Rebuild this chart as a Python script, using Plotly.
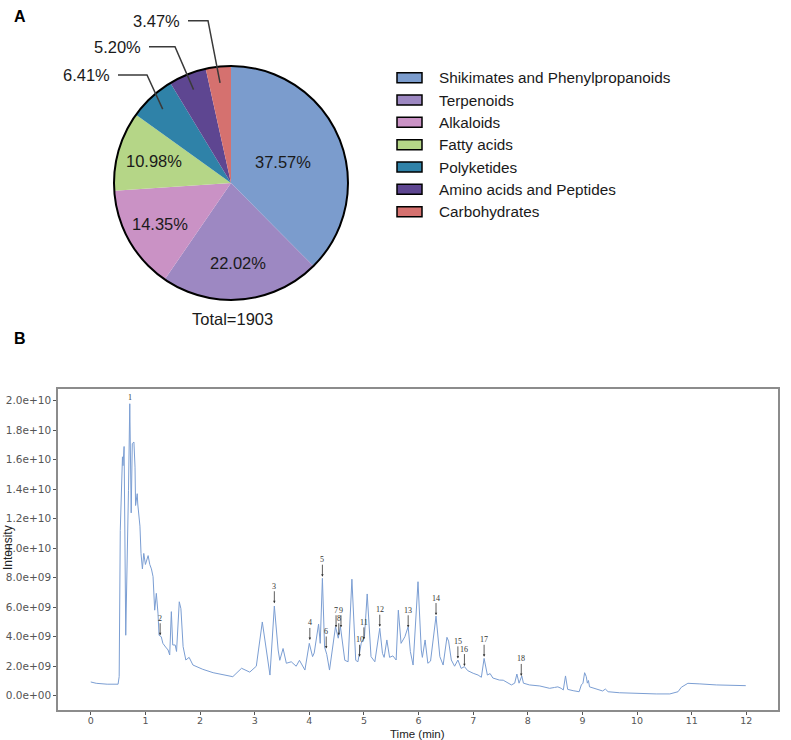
import math
import plotly.graph_objects as go

W, H = 791, 740

# ---------------- Panel A data ----------------
CATEGORIES = ["Shikimates and Phenylpropanoids", "Terpenoids", "Alkaloids",
              "Fatty acids", "Polyketides", "Amino acids and Peptides", "Carbohydrates"]
COUNTS = [715, 419, 273, 209, 122, 99, 66]
COLORS = ["#7B9CCD", "#9D88C2", "#CA92C5", "#B5D687", "#2F82A8", "#5E4691", "#D5716F"]

# ---------------- Panel B data ----------------
TIME_MIN = [0.00, 0.10, 0.30, 0.50, 0.52, 0.54, 0.58, 0.59, 0.61, 0.64, 0.69, 0.714, 0.74, 0.76,
            0.79, 0.81, 0.82, 0.85, 0.86, 0.90, 0.92, 0.945, 0.97, 1.00, 1.05, 1.08, 1.11, 1.14,
            1.17, 1.20, 1.23, 1.25, 1.29, 1.32, 1.37, 1.415, 1.445, 1.475, 1.50, 1.545, 1.57,
            1.62, 1.65, 1.69, 1.74, 1.80, 1.87, 2.05, 2.24, 2.42, 2.60, 2.76, 2.91, 3.03, 3.14,
            3.28, 3.36, 3.43, 3.46, 3.52, 3.58, 3.67, 3.76, 3.82, 3.92, 4.00, 4.06, 4.09, 4.17,
            4.20, 4.24, 4.28, 4.32, 4.37, 4.48, 4.53, 4.57, 4.65, 4.71, 4.78, 4.85, 4.89, 4.95,
            5.01, 5.06, 5.13, 5.20, 5.29, 5.34, 5.37, 5.42, 5.47, 5.53, 5.59, 5.63, 5.68, 5.75,
            5.81, 5.85, 5.90, 5.99, 6.05, 6.07, 6.12, 6.17, 6.22, 6.32, 6.39, 6.45, 6.52, 6.55,
            6.60, 6.66, 6.72, 6.78, 6.84, 6.90, 7.00, 7.09, 7.15, 7.20, 7.26, 7.31, 7.36, 7.48,
            7.55, 7.70, 7.76, 7.80, 7.84, 7.89, 7.92, 8.03, 8.22, 8.40, 8.49, 8.55, 8.61, 8.65,
            8.69, 8.73, 8.83, 8.94, 8.98, 9.01, 9.04, 9.07, 9.09, 9.11, 9.13, 9.25, 9.37, 9.42,
            9.47, 9.68, 9.98, 10.35, 10.60, 10.75, 10.81, 10.93, 11.15, 11.45, 11.99]
INTENSITY_E9 = [0.93, 0.84, 0.78, 0.78, 1.3, 11.2, 16.2, 15.6, 16.9, 4.1, 13.9, 19.8, 12.4, 17.1,
                17.2, 15.5, 12.9, 13.7, 13.0, 11.5, 9.65, 8.6, 9.65, 8.9, 9.5, 8.9, 8.6, 8.07,
                5.8, 6.94, 5.6, 4.1, 4.0, 3.55, 3.3, 3.1, 2.76, 5.7, 3.44, 3.44, 3.0,
                6.37, 5.9, 3.33, 2.42, 2.6, 2.08, 1.79, 1.56, 1.4, 1.29, 1.86, 1.6, 2.0, 5.0,
                1.4, 6.08, 3.1, 2.4, 3.2, 2.2, 2.3, 2.0, 2.4, 1.74, 3.55, 2.65, 2.9, 4.86,
                3.55, 7.96, 3.3, 2.8, 1.74, 4.68, 3.9, 4.68, 2.4, 2.3, 7.9, 2.4, 2.3, 3.55,
                4.0, 6.9, 2.65, 2.3, 4.57, 2.87, 2.6, 3.78, 2.6, 2.7, 2.42, 5.8, 3.55, 4.0,
                4.68, 3.0, 2.08, 7.73, 3.1, 2.6, 3.78, 2.2, 2.35, 5.4, 2.65, 2.08, 3.96, 3.7,
                2.42, 2.0, 2.42, 1.85, 1.97, 1.7, 1.52, 1.4, 1.25, 2.53, 1.4, 1.5, 1.2, 1.06,
                1.05, 0.73, 0.85, 1.47, 0.85, 1.34, 0.85, 0.73, 0.66, 0.5, 0.56, 0.6, 0.5, 0.39,
                1.34, 0.43, 0.34, 0.27, 0.73, 0.85, 1.56, 1.3, 0.85, 1.03, 0.6, 0.45, 0.32, 0.45,
                0.27, 0.2, 0.15, 0.12, 0.12, 0.27, 0.57, 0.84, 0.8, 0.73, 0.68]

PEAK_IDS = ["1", "2", "3", "4", "5", "6", "7", "8", "9", "10", "11", "12", "13", "14", "15", "16", "17", "18"]
PEAK_TIME = [0.714, 1.27, 3.36, 4.01, 4.24, 4.31, 4.49, 4.54, 4.58, 4.92, 5.00, 5.29, 5.81, 6.32,
             6.72, 6.84, 7.20, 7.88]
PEAK_INT_E9 = [19.8, 4.1, 6.27, 3.78, 8.07, 3.2, 4.64, 4.1, 4.64, 2.64, 3.82, 4.68, 4.64, 5.47,
               2.53, 2.01, 2.64, 1.34]

X_TICKS = list(range(0, 13))
Y_TICKS_E9 = [0, 2, 4, 6, 8, 10, 12, 14, 16, 18, 20]


def px(x):
    return x / W


def py(y):
    return 1 - y / H


FONT = "Liberation Sans, Arial, sans-serif"
TICK_FONT = "DejaVu Sans, sans-serif"
fig = go.Figure()

# ---- Pie ----
CX, CY, R = 231, 183, 117
fig.add_trace(go.Pie(
    labels=CATEGORIES, values=COUNTS, sort=False, direction="clockwise", rotation=0,
    marker=dict(colors=COLORS, line=dict(width=0)),
    textinfo="none", hoverinfo="label+percent", showlegend=False,
    domain=dict(x=[px(CX - R), px(CX + R)], y=[py(CY + R), py(CY - R)]),
))

shapes = []
annotations = []

shapes.append(dict(type="circle", xref="paper", yref="paper",
                   x0=px(CX - R), x1=px(CX + R), y0=py(CY + R), y1=py(CY - R),
                   line=dict(color="black", width=2)))

total = sum(COUNTS)
INSIDE_R = [0.48, 0.69, 0.70, 0.68]
# elbow (x, y) and horizontal start x of leader lines for small slices
OUTSIDE = {4: (147, 75, 118), 5: (175, 46.7, 149), 6: (208, 20.7, 188)}
cum = 0
for i, c in enumerate(COUNTS):
    mid = (cum + c / 2) / total * 2 * math.pi
    cum += c
    label = f"{c / total * 100:.2f}%"
    if i < 4:
        r = INSIDE_R[i] * R
        x = CX + r * math.sin(mid)
        y = CY - r * math.cos(mid)
        annotations.append(dict(x=px(x), y=py(y), xref="paper", yref="paper", text=label,
                                showarrow=False, font=dict(family=FONT, size=16.5, color="#1a1a1a"),
                                xanchor="center", yanchor="middle"))
    else:
        ex, ey, sx = OUTSIDE[i]
        r = 0.86 * R
        tx = CX + r * math.sin(mid)
        ty = CY - r * math.cos(mid)
        shapes.append(dict(type="path", xref="paper", yref="paper",
                           path=f"M {px(sx)},{py(ey)} L {px(ex)},{py(ey)} L {px(tx)},{py(ty)}",
                           line=dict(color="#3a3a3a", width=1.5)))
        annotations.append(dict(x=px(sx - 6), y=py(ey), xref="paper", yref="paper", text=label,
                                showarrow=False, font=dict(family=FONT, size=16.5, color="#1a1a1a"),
                                xanchor="right", yanchor="middle"))

annotations.append(dict(x=px(232), y=py(319), xref="paper", yref="paper", text=f"Total={total}",
                        showarrow=False, font=dict(family=FONT, size=16.5, color="#1a1a1a"),
                        xanchor="center", yanchor="middle"))

# custom legend
for i, (cat, col) in enumerate(zip(CATEGORIES, COLORS)):
    yc = 77.7 + i * 22.33
    shapes.append(dict(type="rect", xref="paper", yref="paper",
                       x0=px(397), x1=px(422), y0=py(yc + 5), y1=py(yc - 5),
                       fillcolor=col, line=dict(color="black", width=1.5)))
    annotations.append(dict(x=px(437), y=py(yc), xref="paper", yref="paper", text=cat,
                            showarrow=False, font=dict(family=FONT, size=15.3, color="#1a1a1a"),
                            xanchor="left", yanchor="middle"))

# panel letters
for letter, (lx, ly) in {"A": (20, 17), "B": (20, 338)}.items():
    annotations.append(dict(x=px(lx), y=py(ly), xref="paper", yref="paper", text=f"<b>{letter}</b>",
                            showarrow=False, font=dict(family=FONT, size=16, color="black"),
                            xanchor="center", yanchor="middle"))

# ---- Chromatogram ----
fig.add_trace(go.Scatter(
    x=TIME_MIN, y=[v * 1e9 for v in INTENSITY_E9], mode="lines",
    line=dict(color="#7B9ED3", width=1), showlegend=False, xaxis="x", yaxis="y",
))

for pid, t, v in zip(PEAK_IDS, PEAK_TIME, PEAK_INT_E9):
    if pid == "1":
        annotations.append(dict(x=t, y=v * 1e9, xref="x", yref="y", text=pid, showarrow=False,
                                yanchor="bottom", yshift=0,
                                font=dict(family="Liberation Serif, serif", size=8, color="#333")))
    else:
        annotations.append(dict(x=t, y=v * 1e9, xref="x", yref="y", text=pid, showarrow=True,
                                ax=0, ay=-17, arrowhead=2, arrowsize=0.6, arrowwidth=0.8,
                                arrowcolor="#333", standoff=0, borderpad=0,
                                font=dict(family="Liberation Serif, serif", size=8, color="#333")))

annotations.append(dict(x=px(418), y=py(740), xref="paper", yref="paper", text="Time (min)",
                        showarrow=False, font=dict(family=FONT, size=11.5, color="#222"),
                        xanchor="center", yanchor="bottom", yshift=-1, borderpad=0))
annotations.append(dict(x=px(8), y=py(548), xref="paper", yref="paper", text="Intensity",
                        showarrow=False, textangle=-90, font=dict(family=FONT, size=12, color="#222"),
                        xanchor="center", yanchor="middle"))

axis_common = dict(showgrid=False, zeroline=False, showline=True, mirror=True,
                   linecolor="#8c8c8c", linewidth=1.5, ticks="outside", ticklen=3,
                   tickcolor="#555", tickwidth=1)

fig.update_layout(
    width=W, height=H, margin=dict(l=0, r=0, t=0, b=0),
    paper_bgcolor="white", plot_bgcolor="white", showlegend=False,
    xaxis=dict(domain=[px(58), px(778)], range=[-0.6, 12.58], tickvals=X_TICKS,
               anchor="y", ticklabelstandoff=-2,
               tickfont=dict(family=TICK_FONT, size=9.5, color="#555"), **axis_common),
    yaxis=dict(domain=[py(710), py(389)], range=[-0.97e9, 20.8e9],
               tickvals=[v * 1e9 for v in Y_TICKS_E9],
               ticktext=[f"{v * 1e9:.1e}" for v in Y_TICKS_E9],
               anchor="x", tickfont=dict(family=TICK_FONT, size=10.5, color="#555"), **axis_common),
    shapes=shapes, annotations=annotations,
)

fig.write_html("out.html")
